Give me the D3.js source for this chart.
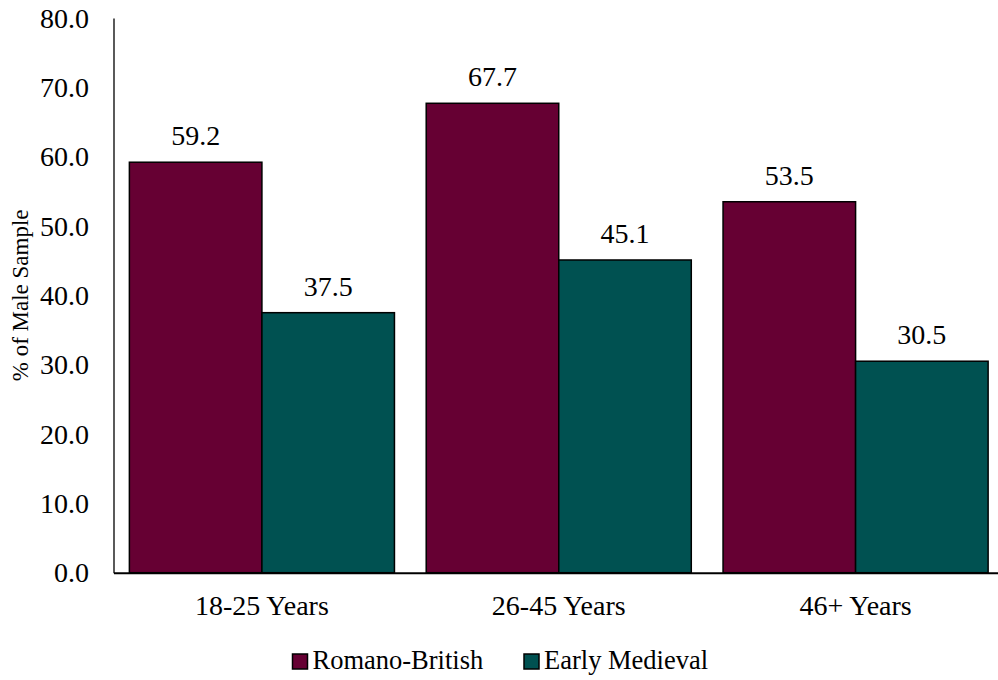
<!DOCTYPE html>
<html>
<head>
<meta charset="utf-8">
<script src="https://cdn.jsdelivr.net/npm/d3@7"></script>
<style>
  html, body { margin: 0; padding: 0; background: #fff; }
  svg { display: block; }
  svg text { font-family: 'Liberation Serif', serif; }
</style>
</head>
<body>
<svg id="chart" width="998" height="680"></svg>
<script>
const categories = ["18-25 Years", "26-45 Years", "46+ Years"];
const seriesNames = ["Romano-British", "Early Medieval"];
const romanoBritish = [59.2, 67.7, 53.5];
const earlyMedieval = [37.5, 45.1, 30.5];
const yTicks = [0, 10, 20, 30, 40, 50, 60, 70, 80];
const yLabel = "% of Male Sample";
const colors = ["#660033", "#005151"];

const seriesValues = [romanoBritish, earlyMedieval];
const FONT = "Liberation Serif";
const FS = 28;

const svg = d3.select("#chart");
const plotLeft = 113.5, plotRight = 1004, plotTop = 18, plotBottom = 572.7;

const x0 = d3.scaleBand().domain(categories).range([plotLeft, plotRight])
  .paddingInner(0.107).paddingOuter(0.0535);
const x1 = d3.scaleBand().domain(seriesNames).range([0, x0.bandwidth()]).padding(0);
const y = d3.scaleLinear().domain([0, 80]).range([plotBottom, plotTop]);

// bars
const groups = svg.append("g").selectAll("g")
  .data(categories).join("g")
  .attr("transform", c => `translate(${x0(c)},0)`);

groups.selectAll("rect")
  .data((c, i) => seriesNames.map((s, j) => ({ s, j, v: seriesValues[j][i] })))
  .join("rect")
  .attr("x", d => x1(d.s))
  .attr("y", d => y(d.v))
  .attr("width", x1.bandwidth())
  .attr("height", d => y(0) - y(d.v))
  .attr("fill", d => colors[d.j])
  .attr("stroke", "#000")
  .attr("stroke-width", 1.5);

groups.selectAll("text.val")
  .data((c, i) => seriesNames.map((s, j) => ({ s, j, v: seriesValues[j][i] })))
  .join("text")
  .attr("class", "val")
  .attr("x", d => x1(d.s) + x1.bandwidth() / 2)
  .attr("y", d => y(d.v) - 17)
  .attr("text-anchor", "middle")
  .attr("font-family", FONT)
  .attr("font-size", FS)
  .attr("fill", "#000")
  .text(d => d.v.toFixed(1));

// y axis
const yAxis = d3.axisLeft(y).tickValues(yTicks).tickSize(0).tickPadding(24.5)
  .tickFormat(d => d3.format(".1f")(d));
const gy = svg.append("g").attr("transform", `translate(${plotLeft},0)`).call(yAxis)
  .attr("font-family", FONT).attr("font-size", FS);
gy.select(".domain").attr("stroke", "#000").attr("stroke-width", 1.3);
gy.selectAll("text").attr("fill", "#000").attr("dy", "0.33em");

// x axis
const xAxis = d3.axisBottom(x0).tickSize(0).tickPadding(22.5);
const gx = svg.append("g").attr("transform", `translate(0,${plotBottom})`).call(xAxis)
  .attr("font-family", FONT).attr("font-size", FS);
gx.select(".domain").attr("stroke", "#000").attr("stroke-width", 2);
gx.selectAll("text").attr("fill", "#000").attr("dy", "0.71em");

// y label
svg.append("text")
  .attr("transform", `translate(28,${(plotTop + plotBottom) / 2}) rotate(-90)`)
  .attr("text-anchor", "middle")
  .attr("font-family", FONT)
  .attr("font-size", 23)
  .attr("fill", "#000")
  .text(yLabel);

// legend
const legendX = [292.5, 524];
const lg = svg.append("g").selectAll("g").data(seriesNames).join("g")
  .attr("transform", (d, i) => `translate(${legendX[i]},654)`);
lg.append("rect").attr("width", 15).attr("height", 15)
  .attr("fill", (d, i) => colors[i]).attr("stroke", "#000").attr("stroke-width", 1.5);
lg.append("text").attr("x", 20).attr("y", 15)
  .attr("font-family", FONT).attr("font-size", 26.5)
  .attr("fill", "#000").text(d => d);
</script>
</body>
</html>
